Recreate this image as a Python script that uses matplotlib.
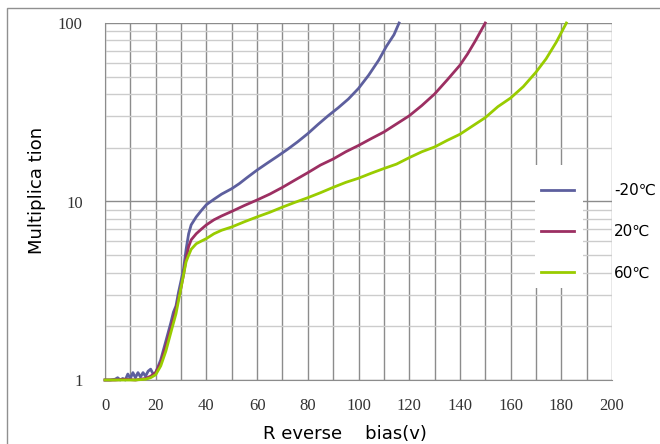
import matplotlib
matplotlib.use("Agg")
import matplotlib.pyplot as plt
from matplotlib.patches import Rectangle
from matplotlib.ticker import FixedLocator, NullFormatter

# ---- data ----
v_m20 = [0, 2, 4, 5, 6, 7, 8, 9, 10, 11, 12, 13, 14, 15, 16, 17, 18, 19, 20, 22, 24, 26, 27, 28, 29,
         30, 31, 32, 33, 34, 36, 38, 40, 43, 46, 50, 53, 56, 60, 64, 68, 72, 76, 80, 84, 88, 92, 96,
         100, 104, 108, 111, 114, 116]
m_m20 = [1.0, 1.0, 1.01, 1.03, 1.0, 1.02, 1.0, 1.08, 1.02, 1.1, 1.03, 1.1, 1.04, 1.1, 1.05, 1.12, 1.15,
         1.08, 1.1, 1.3, 1.65, 2.1, 2.4, 2.6, 3.1, 3.6, 4.2, 5.4, 6.6, 7.4, 8.2, 8.9, 9.6, 10.3, 11.0,
         11.8, 12.6, 13.6, 15.0, 16.4, 17.9, 19.6, 21.6, 24.0, 27.0, 30.2, 33.5, 37.5, 43, 51, 62, 74,
         86, 100]

v_20 = [0, 4, 8, 12, 16, 18, 20, 22, 24, 26, 28, 30, 31, 32, 33, 34, 36, 38, 40, 43, 46, 50, 55, 60,
        65, 70, 75, 80, 85, 90, 95, 100, 105, 110, 115, 120, 125, 130, 135, 140, 143, 146, 150]
m_20 = [1.0, 1.0, 1.01, 1.0, 1.02, 1.05, 1.1, 1.25, 1.55, 1.95, 2.5, 3.3, 3.9, 4.8, 5.6, 6.1, 6.6,
        7.0, 7.4, 7.9, 8.3, 8.8, 9.5, 10.2, 11.0, 12.0, 13.2, 14.5, 16.0, 17.3, 19.0, 20.6, 22.5,
        24.5, 27.2, 30.2, 34.5, 40, 48, 58, 67, 79, 100]

v_60 = [0, 4, 8, 12, 16, 18, 20, 22, 24, 26, 28, 30, 31, 32, 33, 34, 36, 38, 40, 43, 46, 50, 55, 60,
        65, 70, 75, 80, 85, 90, 95, 100, 105, 110, 115, 120, 125, 130, 135, 140, 145, 150, 155, 160,
        165, 170, 174, 178, 182]
m_60 = [1.0, 1.0, 1.0, 1.0, 1.01, 1.03, 1.07, 1.2, 1.45, 1.85, 2.35, 3.3, 3.9, 4.6, 5.0, 5.4, 5.8,
        6.0, 6.2, 6.6, 6.9, 7.2, 7.7, 8.2, 8.7, 9.3, 9.9, 10.5, 11.2, 12.0, 12.8, 13.5, 14.4, 15.3,
        16.2, 17.6, 19.0, 20.2, 22.0, 23.8, 26.5, 29.5, 34, 38, 44, 53, 63, 78, 100]

labels = ["-20\u2103", "20\u2103", "60\u2103"]
colors = ["#5d5f9e", "#9c2f62", "#99cc00"]
x_ticks = [0, 20, 40, 60, 80, 100, 120, 140, 160, 180, 200]
y_ticks = [1, 10, 100]
y_ticklabels = ["1", "10", "100"]

W, H = 660, 444
fig = plt.figure(figsize=(W / 100, H / 100), dpi=100)
fig.patch.set_facecolor("white")

# outer frame
fig.patches.append(Rectangle((7 / W, -0.05), 1.0, 1 - 8 / H + 0.05, transform=fig.transFigure,
                             fill=False, edgecolor="#909090", linewidth=1.0, zorder=0))

ax = fig.add_axes([105 / W, 1 - 380 / H, (612 - 105) / W, (380 - 23) / H])
ax.set_yscale("log")
ax.set_xlim(0, 200)
ax.set_ylim(1, 100)

# grid
ax.xaxis.set_major_locator(FixedLocator(x_ticks))
ax.xaxis.set_minor_locator(FixedLocator(list(range(0, 201, 10))))
ax.yaxis.set_major_locator(FixedLocator(y_ticks))
ax.yaxis.set_minor_locator(FixedLocator([k * d for d in (1, 10) for k in range(2, 10)]))
ax.yaxis.set_minor_formatter(NullFormatter())
ax.set_yticklabels(y_ticklabels)
ax.grid(which="minor", axis="x", color="#8c8c8c", linewidth=1.0)
ax.grid(which="major", axis="x", color="#8c8c8c", linewidth=1.0)
ax.grid(which="minor", axis="y", color="#cccccc", linewidth=1.0)
ax.grid(which="major", axis="y", color="#8c8c8c", linewidth=1.0)
ax.set_axisbelow(True)
ax.tick_params(which="both", length=0)
ax.tick_params(axis="y", pad=16)
ax.tick_params(axis="x", pad=13)
for lab in ax.get_xticklabels() + ax.get_yticklabels():
    lab.set_family("Liberation Serif")
    lab.set_fontsize(12)
    lab.set_color("#333333")
for s in ["top", "right"]:
    ax.spines[s].set_visible(False)
ax.spines["left"].set_color("#8c8c8c")
ax.spines["bottom"].set_color("#8c8c8c")

lines = []
for v, m, c, lb in [(v_m20, m_m20, colors[0], labels[0]), (v_20, m_20, colors[1], labels[1]),
                    (v_60, m_60, colors[2], labels[2])]:
    ln, = ax.plot(v, m, color=c, linewidth=2.0, label=lb, zorder=3, clip_on=False)
    lines.append(ln)

# white legend backdrop
fig.patches.append(Rectangle((535 / W, 1 - 288 / H), 48 / W, 123 / H, transform=fig.transFigure,
                             facecolor="white", edgecolor="none", zorder=2))

leg = fig.legend(handles=lines, labels=labels, loc="upper left",
                 bbox_to_anchor=(541 / W, 1 - 183 / H), frameon=False,
                 prop={"family": ["DejaVu Sans", "Noto Sans CJK SC"], "size": 11},
                 handlelength=2.15, handletextpad=2.65, labelspacing=1.72,
                 borderpad=0, borderaxespad=0)
leg.set_zorder(5)

fig.text(37 / W, 1 - 190 / H, "Multiplica tion", rotation=90, ha="center", va="center",
         fontsize=13, family="DejaVu Sans")
fig.text(345 / W, 1 - 434 / H, "R everse    bias(v)", ha="center", va="center",
         fontsize=13, family="DejaVu Sans")

fig.savefig("out.png", dpi=100)
